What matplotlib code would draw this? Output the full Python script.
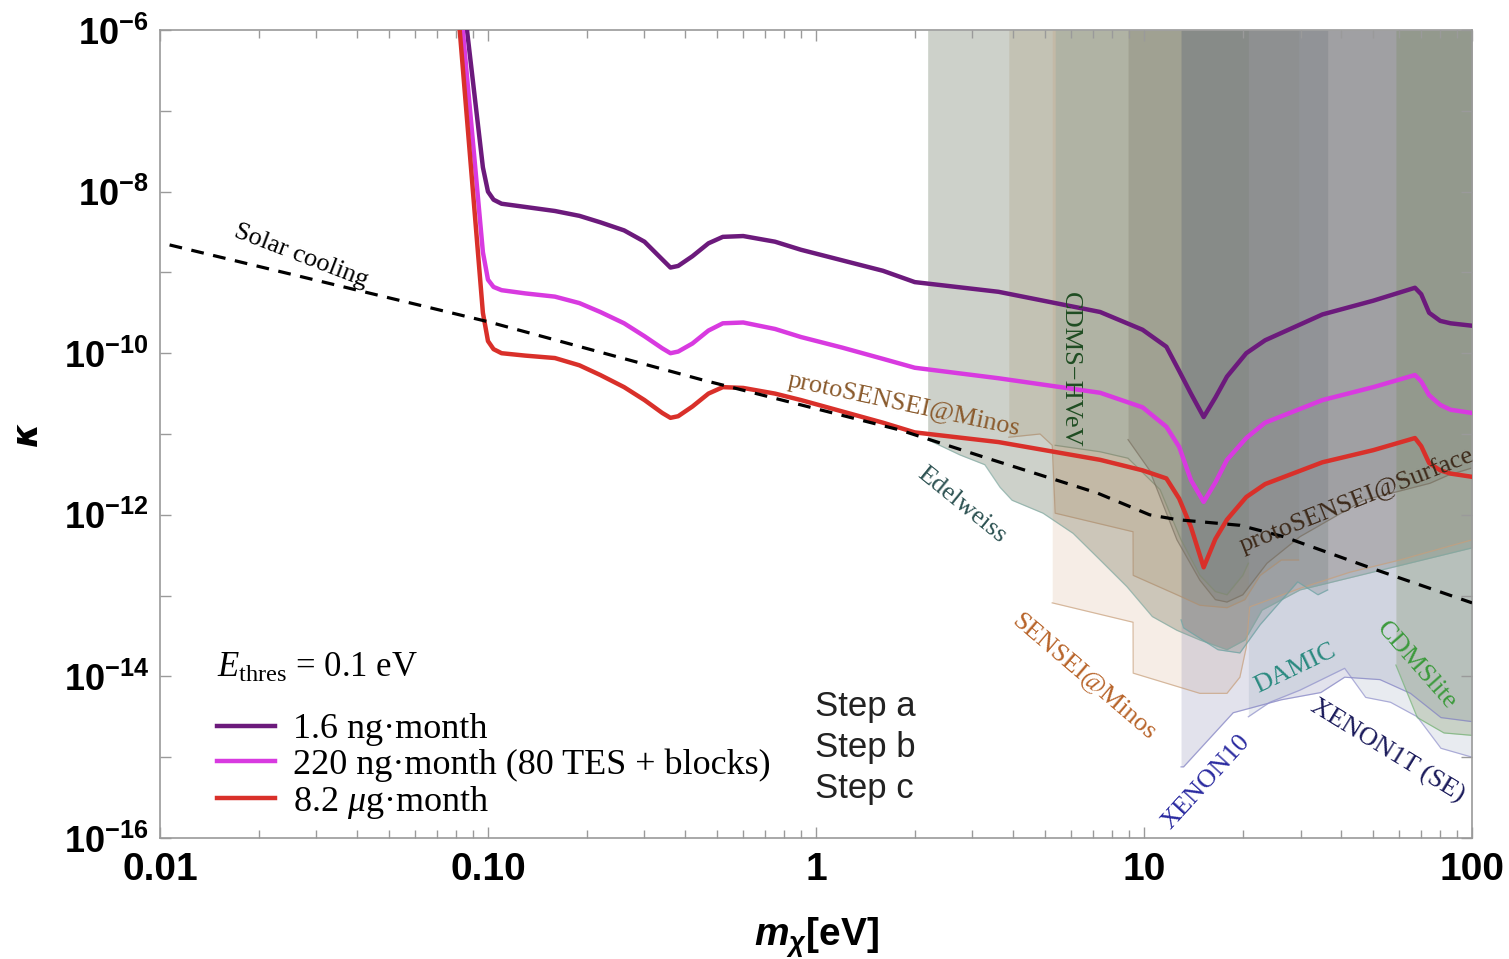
import numpy as np
import matplotlib
matplotlib.use("Agg")
import matplotlib.pyplot as plt
from matplotlib.ticker import FixedLocator, FixedFormatter, NullFormatter

plt.rcParams['mathtext.fontset'] = 'custom'
plt.rcParams['mathtext.rm'] = 'Liberation Serif'
plt.rcParams['mathtext.it'] = 'Liberation Serif:italic'
plt.rcParams['mathtext.bf'] = 'Liberation Sans:bold'
plt.rcParams['mathtext.bfit'] = 'Liberation Sans:bold:italic'
plt.rcParams['mathtext.sf'] = 'Liberation Sans'

SERIF = 'Liberation Serif'

# ---- projected reach curves (mass in eV, log10 kappa) ----
mid_m = [0.1, 0.104, 0.11, 0.13, 0.16, 0.19, 0.22, 0.26, 0.30, 0.34, 0.36, 0.38, 0.42,
         0.47, 0.52, 0.6, 0.75, 0.9, 1.2, 1.6, 2.0, 3.6, 7.35, 9.9, 11.7, 12.8, 13.9,
         15.2, 16.5, 17.9, 20.5, 23.4, 35, 50, 67, 70, 74, 80, 86, 100]

purple_m = [0.0863, 0.0965] + mid_m
purple_lk = [-6.0, -7.70,
             -8.0, -8.1, -8.15, -8.19, -8.24, -8.30, -8.38, -8.48, -8.62, -8.84, -8.94,
             -8.92, -8.80, -8.64, -8.56, -8.55, -8.62, -8.72, -8.85, -8.98, -9.12, -9.24,
             -9.49, -9.71, -9.92, -10.22, -10.5, -10.79, -10.55, -10.29, -10.0, -9.84,
             -9.52, -9.35, -9.19, -9.27, -9.5, -9.6, -9.63, -9.66]

magenta_m = [0.0838, 0.0965] + mid_m
magenta_lk = [-6.0, -8.75,
              -9.09, -9.18, -9.22, -9.26, -9.30, -9.38, -9.49, -9.63, -9.79, -9.94, -10.0,
              -9.98, -9.88, -9.72, -9.63, -9.62, -9.70, -9.80, -9.93, -10.07, -10.18,
              -10.31, -10.49, -10.67, -10.91, -11.16, -11.57, -11.84, -11.6, -11.32,
              -11.05, -10.86, -10.58, -10.42, -10.27, -10.35, -10.52, -10.64, -10.70, -10.74]

red_m = [0.082, 0.0965] + mid_m
red_lk = [-6.0, -9.5,
          -9.85, -9.95, -10.0, -10.03, -10.06, -10.15, -10.27, -10.42, -10.58, -10.74,
          -10.80, -10.78, -10.66, -10.50, -10.42, -10.43, -10.5, -10.58, -10.72, -10.86,
          -10.98, -11.1, -11.32, -11.45, -11.55, -11.8, -12.15, -12.65, -12.3, -12.06,
          -11.78, -11.62, -11.35, -11.2, -11.05, -11.15, -11.36, -11.45, -11.49, -11.53]

solar_m = [0.0107, 0.1, 0.45, 1.8, 3.45, 7.2, 10.4, 12.6, 19.6, 26.6, 50.9, 100]
solar_lk = [-8.66, -9.61, -10.33, -10.95, -11.32, -11.73, -12.0, -12.06, -12.13, -12.27,
            -12.68, -13.09]

# ---- existing exclusion regions: lower edge (mass in eV, log10 kappa) ----
edel_m = [2.19, 2.75, 3.27, 3.64, 3.96, 4.92, 6.08, 7.35, 8.87, 10.6, 12.6, 14.8, 17.9,
          20.3, 22.9, 29.9, 100]
edel_lk = [-11.07, -11.26, -11.38, -11.66, -11.82, -11.98, -12.23, -12.56, -12.89, -13.26,
           -13.43, -13.55, -13.67, -13.55, -13.18, -12.93, -12.41]

psm_m = [3.87, 4.82, 5.25, 5.36, 9.26, 9.27, 12.6, 14.8, 17.9, 20.3, 22.6, 26.2, 29.6]
psm_lk = [-11.04, -11.0, -11.14, -11.98, -12.21, -12.75, -12.99, -13.12, -13.15, -13.05,
          -12.75, -12.56, -12.56]

sm_m = [5.25, 9.26, 9.27, 14.8, 17.9, 19.6, 20.5, 21.0, 29.9, 42.5, 60.2, 100]
sm_lk = [-13.09, -13.33, -13.96, -14.21, -14.21, -14.01, -13.64, -13.14, -12.91, -12.71,
         -12.56, -12.31]

hvev_m = [5.36, 7.35, 8.94, 11.2, 12.97, 14.8, 16.5, 17.9, 20.0, 20.8]
hvev_lk = [-11.14, -11.22, -11.3, -11.69, -12.31, -12.75, -12.95, -12.99, -12.75, -12.6]

pss_m = [8.94, 10.4, 12.6, 14.8, 16.5, 17.9, 20.0, 23.7, 29.9, 46.7, 74.4, 84.6, 100]
pss_lk = [-11.07, -11.45, -12.31, -12.81, -13.05, -13.08, -12.99, -12.6, -12.27, -11.82,
          -11.61, -11.51, -11.42]

damic_m = [12.97, 13.2, 16.8, 19.6, 22.6, 29.4, 33.9, 36.3]
damic_lk = [-13.3, -13.4, -13.67, -13.71, -13.36, -12.83, -12.99, -12.93]

xe10_m = [12.97, 13.2, 18.7, 26.2, 34.6, 40.9, 52.4, 64.9, 80.4, 100]
xe10_lk = [-15.12, -15.12, -14.45, -14.29, -14.2, -14.01, -14.04, -14.21, -14.51, -14.56]

x1t_m = [20.8, 24.2, 29.9, 40.9, 47.4, 56.4, 68.1, 80.4, 100]
x1t_lk = [-14.5, -14.32, -14.17, -13.9, -14.26, -14.32, -14.5, -14.89, -15.0]

cdmslite_m = [58.6, 68.1, 82.1, 100]
cdmslite_lk = [-13.86, -14.51, -14.7, -14.73]

regions = [
    (edel_m, edel_lk, '#909b8b', '#7fa8a0', 0.45),
    (psm_m, psm_lk, '#afa082', '#b09070', 0.3),
    (sm_m, sm_lk, '#c88c5a', '#c8a07c', 0.15),
    (hvev_m, hvev_lk, '#86a7a0', '#808a70', 0.3),
    (pss_m, pss_lk, '#7d7969', '#7a7060', 0.3),
    (damic_m, damic_lk, '#5a6a5a', '#6aa4a4', 0.25),
    (xe10_m, xe10_lk, '#6e6ea0', '#8080c4', 0.2),
    (x1t_m, x1t_lk, '#8c9cb4', '#9090cc', 0.2),
    (cdmslite_m, cdmslite_lk, '#6f884e', '#70b070', 0.25),
]

labels = ['1.6 ng\u00b7month', '220 ng\u00b7month (80 TES + blocks)', '8.2 $\\mu$g\u00b7month']
colors = ['#6c1a7c', '#d83ae0', '#d9302a']

fig = plt.figure(figsize=(15.09, 9.59), dpi=100)
ax = fig.add_axes([0.106, 0.1262, 0.8695, 0.8425])
ax.set_xscale('log')
ax.set_yscale('log')
ax.set_xlim(0.01, 100)
ax.set_ylim(1e-16, 1e-6)

for m, lk, fc, ec, a in regions:
    low = 10.0 ** np.array(lk)
    ax.fill_between(m, low, 1e-6, color=fc, alpha=a, lw=0, zorder=1)
    ax.plot(m, low, color=ec, lw=0.9, alpha=0.7, zorder=1.5)

ax.plot(solar_m, 10.0 ** np.array(solar_lk), 'k--', lw=2.3, dashes=(4, 3), zorder=4)

lines = []
for m, lk, c, lab in zip([purple_m, magenta_m, red_m], [purple_lk, magenta_lk, red_lk],
                         colors, labels):
    ln, = ax.plot(m, 10.0 ** np.array(lk), color=c, lw=3.2, label=lab, zorder=3,
                  solid_joinstyle='round')
    lines.append(ln)

# labels on the plot
txt = dict(family=SERIF, fontsize=19, ha='center', va='center', zorder=6)
ax.text(0.0269, 1.6e-9, 'Solar cooling', rotation=-21, color='black', **txt)
ax.text(1.85, 2.3e-11, 'protoSENSEI@Minos', rotation=-12, color='#8a5a2c', **txt)
ax.text(5.94, 6.2e-11, 'CDMS\u2212HVeV', rotation=-90, color='#1f4d22', **txt)
ax.text(2.79, 1.3e-12, 'Edelweiss', rotation=-39, color='#2d5252', **txt)
ax.text(44.3, 1.5e-12, 'protoSENSEI@Surface', rotation=21.6, color='#3d2a1a', **txt)
ax.text(6.56, 1.0e-14, 'SENSEI@Minos', rotation=-40.5, color='#b8642a', **txt)
ax.text(29.0, 1.26e-14, 'DAMIC', rotation=25.7, color='#2a8a80', **txt)
ax.text(67.4, 1.34e-14, 'CDMSlite', rotation=-48.6, color='#3c9a3c', **txt)
ax.text(55.1, 1.2e-15, 'XENON1T (SE)', rotation=-31.5, color='#1a1a5a', **txt)
ax.text(15.5, 4.9e-16, 'XENON10', rotation=47.6, color='#2a2aa0', **txt)

for i, s in enumerate(['Step a', 'Step b', 'Step c']):
    ax.text(0.499, 0.163 - i * 0.0507, s, transform=ax.transAxes, family='Liberation Sans',
            fontsize=25, ha='left', va='center', color='#222222')

ax.text(0.0434, 0.2104, '$E_{\\mathrm{thres}}$ = 0.1 eV', transform=ax.transAxes,
        family=SERIF, fontsize=25, ha='left', va='center')
leg = ax.legend(handles=lines, loc='lower left', bbox_to_anchor=(0.0434, 0.021),
                frameon=False, prop=dict(family=SERIF, size=26),
                handlelength=1.6, handletextpad=0.5,
                labelspacing=0.06, borderpad=0.0, borderaxespad=0.0)

# axes styling
for sp in ax.spines.values():
    sp.set_color('#9a9a9a')
    sp.set_linewidth(1.2)

xt = [0.01, 0.1, 1, 10, 100]
ax.xaxis.set_major_locator(FixedLocator(xt))
ax.xaxis.set_major_formatter(FixedFormatter(['0.01', '0.10', '1', '10', '100']))
xminor = [d * k for d in [0.01, 0.1, 1, 10] for k in range(2, 10)]
ax.xaxis.set_minor_locator(FixedLocator(xminor))
ax.xaxis.set_minor_formatter(NullFormatter())

yexp = list(range(-16, -5))
ax.yaxis.set_major_locator(FixedLocator([10.0 ** e for e in yexp]))
ax.yaxis.set_major_formatter(FixedFormatter(
    ['$\\mathbf{10^{%d}}$' % e if e % 2 == 0 else '' for e in yexp]))
ax.yaxis.set_minor_locator(FixedLocator([]))

ax.tick_params(which='both', direction='in', top=True, right=True, color='#9a9a9a', width=1)
ax.tick_params(which='major', length=8)
ax.tick_params(which='minor', length=5.5)
ax.tick_params(axis='x', labelsize=28, pad=10)
ax.tick_params(axis='y', labelsize=26, pad=8)
for lab in ax.get_xticklabels():
    lab.set_family('Liberation Sans')
    lab.set_fontweight('bold')

ax.set_xlabel('$\\mathbfit{m_{\\chi}}$[eV]', family='Liberation Sans', fontweight='bold',
              fontsize=28, labelpad=20)
ax.set_ylabel('\u03ba', family='DejaVu Sans', fontweight='bold', fontstyle='italic',
              fontsize=25, labelpad=14)

fig.savefig('out.png', dpi=100)
